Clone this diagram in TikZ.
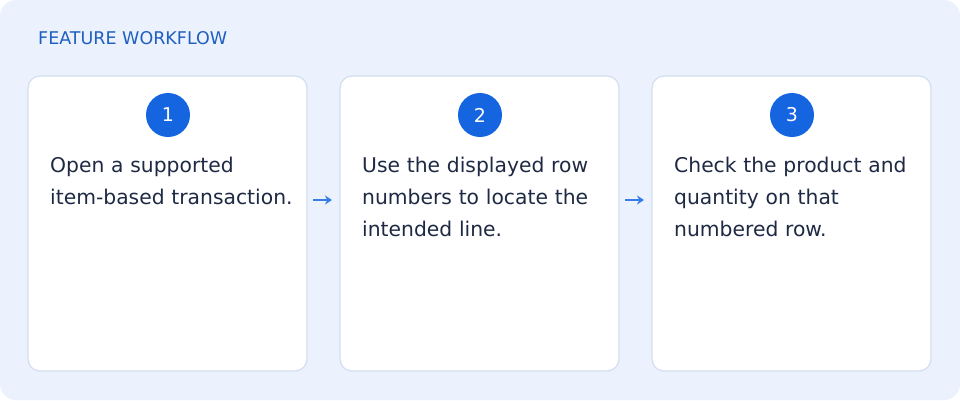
\documentclass[tikz,border=0pt]{standalone}
\usepackage{fontspec}
\setmainfont{DejaVu Sans}
\usetikzlibrary{arrows.meta}
\definecolor{bg}{HTML}{EBF2FE}
\definecolor{bd}{HTML}{D3DEF0}
\definecolor{blu}{HTML}{1565E0}
\definecolor{ttl}{HTML}{1F5FBF}
\definecolor{txt}{HTML}{1E2A44}
\begin{document}
\begin{tikzpicture}[x=1pt,y=-1pt,
  card/.style={draw=bd,line width=1.2pt,fill=white,rounded corners=12pt},
  num/.style={circle,fill=blu,minimum size=44pt,inner sep=0,text=white,font=\fontsize{19}{22}\selectfont},
  body/.style={anchor=north west,inner sep=0,align=left,text width=250pt,text=txt,font=\fontsize{20.3}{32}\selectfont},
  arr/.style={-{Stealth[length=7pt,width=9pt]},draw=blu!85,line width=1.8pt}]
\useasboundingbox (0,0) rectangle (960,400);
\fill[bg,rounded corners=16pt] (0,0) rectangle (960,400);
\node[anchor=west,inner sep=0,text=ttl,font=\fontsize{17.5}{20}\selectfont] (title) at (38,38) {FEATURE WORKFLOW};
\foreach \i/\x in {1/28,2/340,3/652}{
  \draw[card] (\x,76) rectangle (\x+279,371);
  \node[num] (n\i) at (\x+140,115) {\i};
}
\node[body] (t1) at (50,157) {Open a supported\\item-based transaction.};
\node[body] (t2) at (362,157) {Use the displayed row\\numbers to locate the\\intended line.};
\node[body] (t3) at (674,157) {Check the product and\\quantity on that\\numbered row.};
\coordinate (a1) at (313,200); \coordinate (b1) at (332,200);
\coordinate (a2) at (625,200); \coordinate (b2) at (644,200);
\draw[arr] (a1) -- (b1);
\draw[arr] (a2) -- (b2);
\end{tikzpicture}
\end{document}
